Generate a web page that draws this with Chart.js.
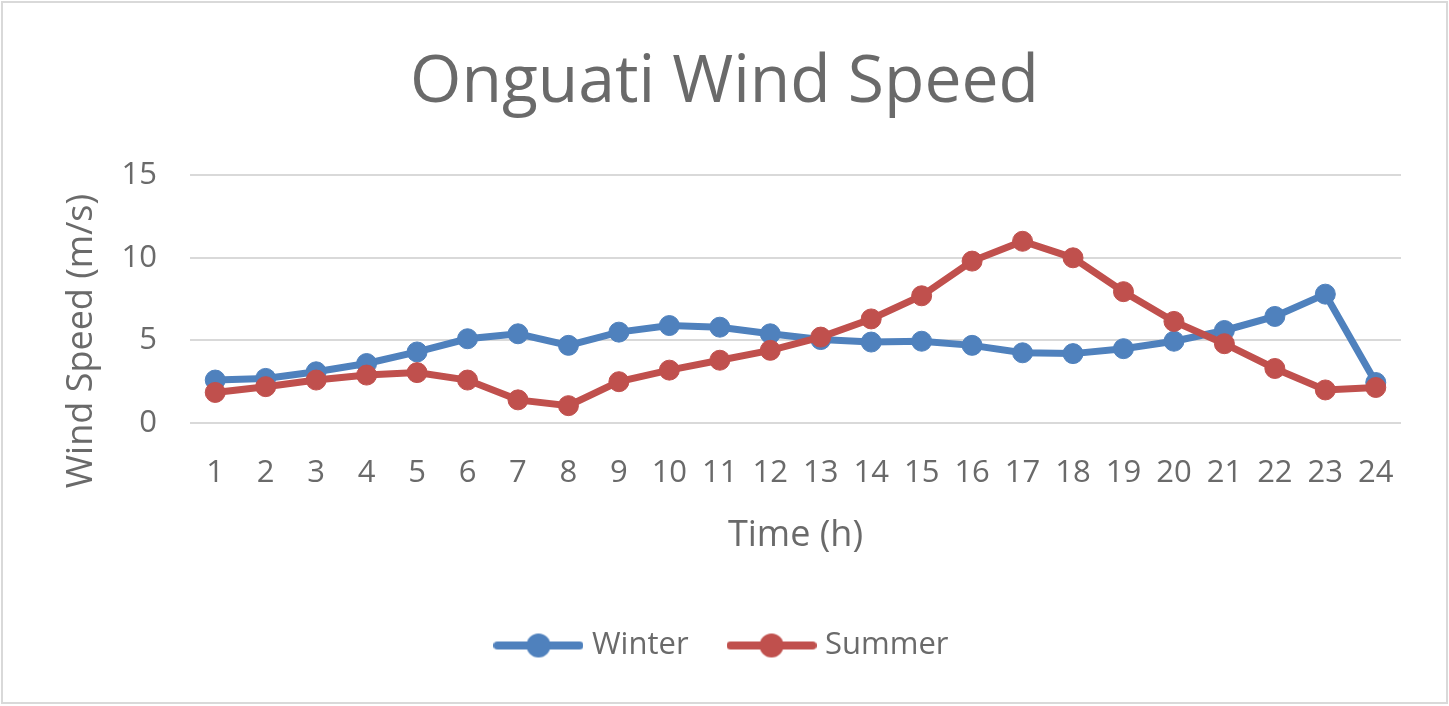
<!DOCTYPE html>
<html>
<head>
<meta charset="utf-8">
<title>Onguati Wind Speed</title>
<script src="https://cdn.jsdelivr.net/npm/chart.js@4.4.1/dist/chart.umd.min.js"></script>
<style>
  html, body { margin: 0; padding: 0; background: #fff; }
  #wrap { position: relative; width: 1449px; height: 706px; }
  #frame { position: absolute; left: 1px; top: 1px; width: 1443px; height: 699px; border: 2px solid #d9d9d9; pointer-events: none; }
</style>
</head>
<body>
<div id="wrap">
  <canvas id="windChart" width="1449" height="706"></canvas>
  <div id="frame"></div>
</div>
<script>
const hours = ["1","2","3","4","5","6","7","8","9","10","11","12","13","14","15","16","17","18","19","20","21","22","23","24"];
const winter = [2.6, 2.7, 3.1, 3.6, 4.3, 5.1, 5.4, 4.7, 5.5, 5.9, 5.8, 5.4, 5.05, 4.9, 4.95, 4.7, 4.25, 4.2, 4.5, 4.95, 5.6, 6.45, 7.8, 2.45];
const summer = [1.85, 2.2, 2.6, 2.9, 3.05, 2.6, 1.4, 1.05, 2.5, 3.2, 3.8, 4.4, 5.2, 6.3, 7.7, 9.8, 11.0, 10.0, 7.95, 6.15, 4.8, 3.3, 2.0, 2.15];
const yTicks = [0, 5, 15];

const blue = "#4f81bd";
const red = "#c0504d";
const textGray = "#6a6a6a";

// legend marker: line with a dot in the middle, like Excel
function legendMarker(color) {
    const c = document.createElement("canvas");
    c.width = 90;
    c.height = 26;
    const g = c.getContext("2d");
    g.strokeStyle = color;
    g.lineWidth = 8;
    g.lineCap = "round";
    g.beginPath();
    g.moveTo(4, 13);
    g.lineTo(86, 13);
    g.stroke();
    g.fillStyle = color;
    g.beginPath();
    g.arc(45, 13, 12, 0, Math.PI * 2);
    g.fill();
    return c;
}

// y axis title, placed where Excel puts it
const yTitle = {
    id: "yTitle",
    afterDraw(chart) {
        const ctx = chart.ctx;
        ctx.save();
        ctx.translate(82, 341);
        ctx.rotate(-Math.PI / 2);
        ctx.font = "36px 'Open Sans'";
        ctx.fillStyle = textGray;
        ctx.textAlign = "center";
        ctx.textBaseline = "middle";
        ctx.fillText("Wind Speed (m/s)", 0, 0);
        ctx.restore();
    }
};

const ctx = document.getElementById("windChart").getContext("2d");
const chart = new Chart(ctx, {
    type: "line",
    data: {
        labels: hours,
        datasets: [{
            label: "Winter",
            data: winter,
            borderColor: blue,
            backgroundColor: blue,
            borderWidth: 7,
            pointRadius: 10,
            pointBorderWidth: 1,
            tension: 0,
            order: 1
        }, {
            label: "Summer",
            data: summer,
            borderColor: red,
            backgroundColor: red,
            borderWidth: 7,
            pointRadius: 10,
            pointBorderWidth: 1,
            tension: 0,
            order: 0
        }]
    },
    options: {
        responsive: false,
        animation: false,
        events: [],
        layout: {
            padding: { top: 0, left: 48, right: 48, bottom: 35 }
        },
        plugins: {
            title: {
                display: true,
                text: "Onguati Wind Speed",
                color: textGray,
                font: { family: "'Open Sans'", size: 66, weight: "normal" },
                padding: { top: 44, bottom: 52 }
            },
            legend: {
                position: "bottom",
                labels: {
                    color: textGray,
                    font: { family: "'Open Sans'", size: 31 },
                    usePointStyle: true,
                    pointStyleWidth: 76,
                    padding: 45,
                    generateLabels(chart) {
                        return chart.data.datasets.map((ds, i) => ({
                            text: ds.label,
                            fillStyle: ds.borderColor,
                            strokeStyle: ds.borderColor,
                            fontColor: textGray,
                            lineWidth: 0,
                            pointStyle: legendMarker(ds.borderColor),
                            hidden: false,
                            datasetIndex: i
                        }));
                    }
                }
            },
            tooltip: { enabled: false }
        },
        scales: {
            x: {
                offset: true,
                grid: { display: false, drawTicks: false },
                border: { display: false },
                ticks: {
                    color: textGray,
                    font: { family: "'Open Sans'", size: 31 },
                    padding: 32,
                    maxRotation: 0,
                    autoSkip: false
                },
                title: {
                    display: true,
                    text: "Time (h)",
                    color: textGray,
                    font: { family: "'Open Sans'", size: 36 },
                    padding: { top: 0, bottom: 28 }
                },
                afterFit(scale) { scale.height = 162; }
            },
            y: {
                min: yTicks[0],
                max: yTicks[2],
                grid: { color: "#d9d9d9", lineWidth: 2, drawTicks: false },
                border: { display: false },
                ticks: {
                    stepSize: yTicks[1],
                    color: textGray,
                    font: { family: "'Open Sans'", size: 31 },
                    padding: 33
                },
                afterFit(scale) { scale.width = 142; }
            }
        }
    },
    plugins: [yTitle]
});
</script>
</body>
</html>
